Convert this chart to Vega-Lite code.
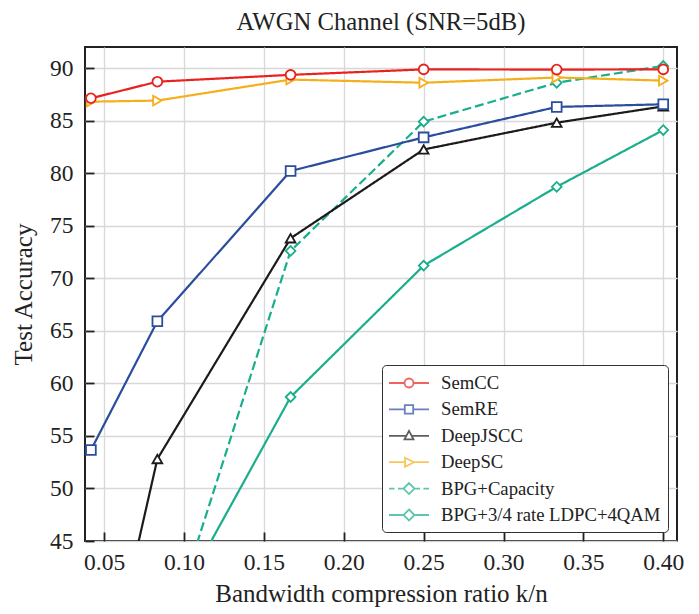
{
  "$schema": "https://vega.github.io/schema/vega-lite/v6.json",
  "width": 592,
  "height": 494,
  "autosize": "none",
  "padding": {"left": 85, "top": 47, "right": 22, "bottom": 73},
  "background": "white",
  "title": {"text": "AWGN Channel (SNR=5dB)", "font": "Liberation Serif", "fontSize": 24.7, "fontWeight": "normal", "color": "#222", "offset": 12},
  "data": {"values": [
    {"m": "BPG+3/4 rate LDPC+4QAM", "x": 0.0833, "y": 35.7},
    {"m": "BPG+3/4 rate LDPC+4QAM", "x": 0.1667, "y": 58.7},
    {"m": "BPG+3/4 rate LDPC+4QAM", "x": 0.25, "y": 71.2},
    {"m": "BPG+3/4 rate LDPC+4QAM", "x": 0.3333, "y": 78.7},
    {"m": "BPG+3/4 rate LDPC+4QAM", "x": 0.4, "y": 84.1},
    {"m": "BPG+Capacity", "x": 0.0833, "y": 33.0},
    {"m": "BPG+Capacity", "x": 0.1667, "y": 72.6},
    {"m": "BPG+Capacity", "x": 0.25, "y": 84.9},
    {"m": "BPG+Capacity", "x": 0.3333, "y": 88.6},
    {"m": "BPG+Capacity", "x": 0.4, "y": 90.2},
    {"m": "DeepSC", "x": 0.0417, "y": 86.8},
    {"m": "DeepSC", "x": 0.0833, "y": 86.9},
    {"m": "DeepSC", "x": 0.1667, "y": 88.9},
    {"m": "DeepSC", "x": 0.25, "y": 88.6},
    {"m": "DeepSC", "x": 0.3333, "y": 89.1},
    {"m": "DeepSC", "x": 0.4, "y": 88.8},
    {"m": "DeepJSCC", "x": 0.0417, "y": 25.0},
    {"m": "DeepJSCC", "x": 0.0833, "y": 52.8},
    {"m": "DeepJSCC", "x": 0.1667, "y": 73.8},
    {"m": "DeepJSCC", "x": 0.25, "y": 82.25},
    {"m": "DeepJSCC", "x": 0.3333, "y": 84.8},
    {"m": "DeepJSCC", "x": 0.4, "y": 86.35},
    {"m": "SemRE", "x": 0.0417, "y": 53.65},
    {"m": "SemRE", "x": 0.0833, "y": 65.9},
    {"m": "SemRE", "x": 0.1667, "y": 80.2},
    {"m": "SemRE", "x": 0.25, "y": 83.4},
    {"m": "SemRE", "x": 0.3333, "y": 86.3},
    {"m": "SemRE", "x": 0.4, "y": 86.55},
    {"m": "SemCC", "x": 0.0417, "y": 87.12},
    {"m": "SemCC", "x": 0.0833, "y": 88.7},
    {"m": "SemCC", "x": 0.1667, "y": 89.35},
    {"m": "SemCC", "x": 0.25, "y": 89.87},
    {"m": "SemCC", "x": 0.3333, "y": 89.85},
    {"m": "SemCC", "x": 0.4, "y": 89.87}
  ]},
  "encoding": {
    "x": {"field": "x", "type": "quantitative",
      "scale": {"domain": [0.038, 0.4086], "nice": false, "zero": false},
      "axis": {"values": [0.05, 0.1, 0.15, 0.2, 0.25, 0.3, 0.35, 0.4], "format": ".2f", "title": "Bandwidth compression ratio k/n", "labelPadding": 18, "titlePadding": 8}},
    "y": {"field": "y", "type": "quantitative",
      "scale": {"domain": [45, 92], "nice": false, "zero": false},
      "axis": {"values": [45, 50, 55, 60, 65, 70, 75, 80, 85, 90], "title": "Test Accuracy", "labelPadding": 21, "titlePadding": 13}}
  },
  "layer": [
    {"mark": {"type": "line", "clip": true, "strokeWidth": 2.2},
     "encoding": {
       "color": {"field": "m", "type": "nominal",
         "scale": {"domain": ["SemCC", "SemRE", "DeepJSCC", "DeepSC", "BPG+Capacity", "BPG+3/4 rate LDPC+4QAM"],
           "range": ["#e8221e", "#2a4d9e", "#1b1b1b", "#f5af1a", "#1aae8c", "#1aae8c"]}, "legend": null},
       "strokeDash": {"field": "m", "type": "nominal",
         "scale": {"domain": ["SemCC", "SemRE", "DeepJSCC", "DeepSC", "BPG+Capacity", "BPG+3/4 rate LDPC+4QAM"],
           "range": [[1, 0], [1, 0], [1, 0], [1, 0], [9, 4], [1, 0]]}, "legend": null}}},
    {"mark": {"type": "point", "clip": true, "filled": false, "fill": "white", "strokeWidth": 1.8, "opacity": 1, "size": 95},
     "encoding": {
       "color": {"field": "m", "type": "nominal",
         "scale": {"domain": ["SemCC", "SemRE", "DeepJSCC", "DeepSC", "BPG+Capacity", "BPG+3/4 rate LDPC+4QAM"],
           "range": ["#e8221e", "#2a4d9e", "#1b1b1b", "#f5af1a", "#1aae8c", "#1aae8c"]}, "legend": null},
       "shape": {"field": "m", "type": "nominal",
         "scale": {"domain": ["SemCC", "SemRE", "DeepJSCC", "DeepSC", "BPG+Capacity", "BPG+3/4 rate LDPC+4QAM"],
           "range": ["circle", "square", "triangle-up", "triangle-right", "diamond", "diamond"]}, "legend": null}}},
    {"transform": [{"filter": "datum.x > 1"}],
     "mark": {"type": "point", "filled": false, "fill": "white", "strokeWidth": 1.8},
     "encoding": {
       "color": {"field": "m", "type": "nominal",
         "scale": {"domain": ["SemCC", "SemRE", "DeepJSCC", "DeepSC", "BPG+Capacity", "BPG+3/4 rate LDPC+4QAM"],
           "range": ["#e8221e", "#2a4d9e", "#1b1b1b", "#f5af1a", "#1aae8c", "#1aae8c"]},
         "legend": {
           "title": null, "orient": "bottom-right", "offset": 9,
           "padding": 7, "strokeColor": "#333", "fillColor": "white", "cornerRadius": 4,
           "labelFont": "Liberation Serif", "labelFontSize": 18.7, "labelColor": "#222", "labelLimit": 400,
           "symbolSize": 400, "symbolStrokeWidth": 1.8, "symbolOffset": 9, "labelOffset": 21, "rowPadding": 5.4}},
       "shape": {"field": "m", "type": "nominal",
         "scale": {"domain": ["SemCC", "SemRE", "DeepJSCC", "DeepSC", "BPG+Capacity", "BPG+3/4 rate LDPC+4QAM"],
           "range": [
             "M-2,0H-0.45M0.45,0H2M0.45,0A0.45,0.45,0,1,1,-0.45,0A0.45,0.45,0,1,1,0.45,0Z",
             "M-2,0H-0.42M0.42,0H2M-0.42,-0.42H0.42V0.42H-0.42Z",
             "M-2,0H-0.25M0.25,0H2M0,-0.5L0.45,0.35H-0.45Z",
             "M-2,0H-0.4M0.5,0H2M-0.4,-0.45L0.5,0L-0.4,0.45Z",
             "M-2,0H-1.45M-1.1,0H-0.55M0.55,0H1.1M1.45,0H2M0,-0.55L0.55,0L0,0.55L-0.55,0Z",
             "M-2,0H-0.55M0.55,0H2M0,-0.55L0.55,0L0,0.55L-0.55,0Z"]},
         "legend": {
           "title": null, "orient": "bottom-right", "offset": 9,
           "padding": 7, "strokeColor": "#333", "fillColor": "white", "cornerRadius": 4,
           "labelFont": "Liberation Serif", "labelFontSize": 18.7, "labelColor": "#222", "labelLimit": 400,
           "symbolSize": 400, "symbolStrokeWidth": 1.8, "symbolOffset": 9, "labelOffset": 21, "rowPadding": 5.4}}}}
  ],
  "resolve": {"scale": {"color": "independent", "shape": "independent", "strokeDash": "independent"}},
  "config": {
    "view": {"stroke": "#222", "strokeWidth": 2},
    "axis": {
      "domain": false, "grid": true, "gridColor": "#d8d8d8", "gridWidth": 1.3,
      "ticks": true, "tickSize": -9, "tickColor": "#222", "tickWidth": 1.8,
      "labelFont": "Liberation Serif", "labelFontSize": 23.5, "labelColor": "#222",
      "titleFont": "Liberation Serif", "titleFontSize": 25, "titleFontWeight": "normal", "titleColor": "#222"
    }
  }
}
